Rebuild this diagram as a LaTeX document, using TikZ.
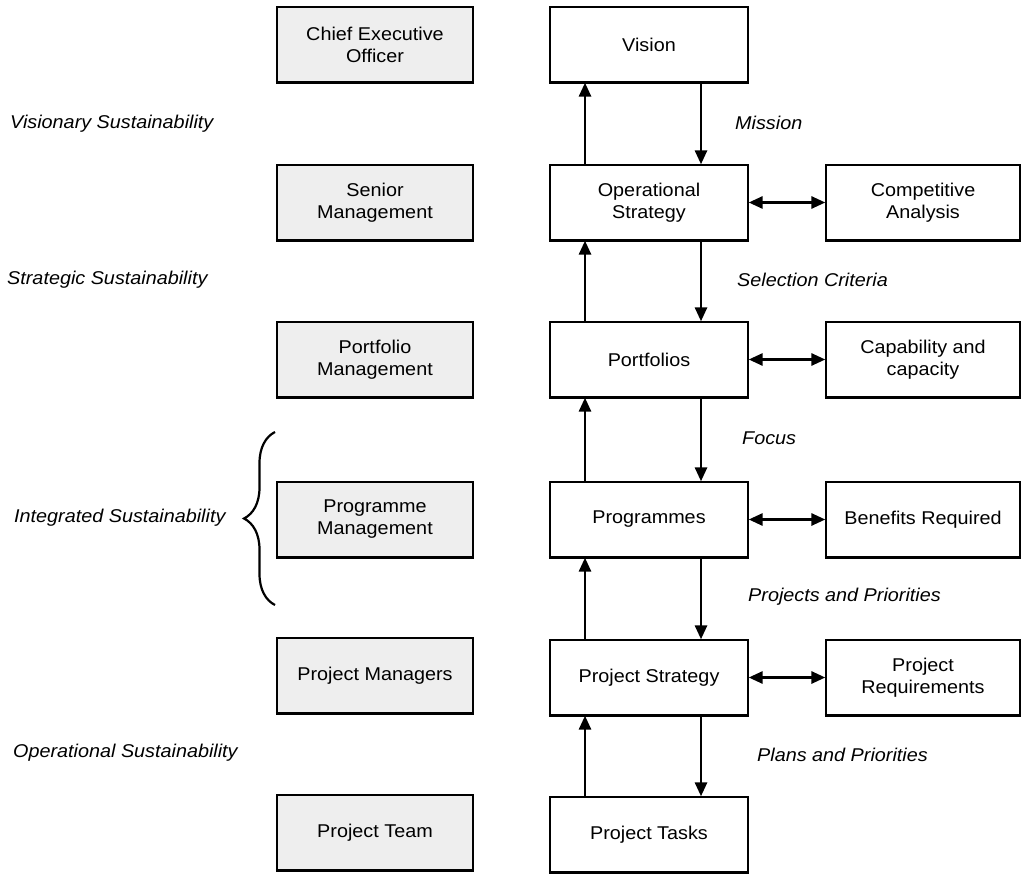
\documentclass[tikz,border=0pt]{standalone}
\usepackage{fontspec}
\setmainfont{Liberation Sans}[FakeStretch=1.07]
\usetikzlibrary{arrows.meta,decorations.pathreplacing}
\definecolor{boxgray}{HTML}{EEEEEE}
\tikzset{
  basebox/.style={draw=black, line width=1.3pt, rectangle, minimum height=75pt, align=center,
    font=\fontsize{18.5pt}{22pt}\selectfont, inner sep=2pt},
  rolebox/.style={basebox, fill=boxgray, minimum width=196pt},
  midbox/.style={basebox, fill=white, minimum width=198pt},
  sidebox/.style={basebox, fill=white, minimum width=194pt},
  flow/.style={line width=2.8pt, -{Triangle[length=14pt,width=12pt]}},
  both/.style={line width=2.8pt, {Triangle[length=14pt,width=12pt]}-{Triangle[length=14pt,width=12pt]}},
  lbl/.style={font=\fontsize{18.5pt}{22pt}\selectfont\itshape, anchor=west, inner sep=0pt},
}
\begin{document}
\begin{tikzpicture}[x=1pt,y=-1pt]
\useasboundingbox (0,0) rectangle (1024,882);
% left role boxes
\node[rolebox] (ceo) at (375,44.5) {Chief Executive\\Officer};
\node[rolebox] (sm) at (375,202.5) {Senior\\Management};
\node[rolebox] (pm) at (375,359.5) {Portfolio\\Management};
\node[rolebox] (prm) at (375,519.5) {Programme\\Management};
\node[rolebox] (pjm) at (375,675.5) {Project Managers};
\node[rolebox] (pt) at (375,832.5) {Project Team};
% middle boxes
\node[midbox] (vis) at (649,44.5) {Vision};
\node[midbox] (ops) at (649,202.5) {Operational\\Strategy};
\node[midbox] (por) at (649,359.5) {Portfolios};
\node[midbox] (prg) at (649,519.5) {Programmes};
\node[midbox] (pst) at (649,677.5) {Project Strategy};
\node[midbox] (ptk) at (649,834.5) {Project Tasks};
% right boxes
\node[sidebox] (ca) at (923,202.5) {Competitive\\Analysis};
\node[sidebox] (cc) at (923,359.5) {Capability and\\capacity};
\node[sidebox] (br) at (923,519.5) {Benefits Required};
\node[sidebox] (pr) at (923,677.5) {Project\\Requirements};
% thick bottom edges
\foreach \n in {ceo,sm,pm,prm,pjm,pt,vis,ops,por,prg,pst,ptk,ca,cc,br,pr}
  \draw[line width=3pt] ([xshift=-0.6pt]\n.south west) -- ([xshift=0.6pt]\n.south east);
% up arrows
\draw[flow] (ops.north -| 585,0) -- (vis.south -| 585,0);
\draw[flow] (por.north -| 585,0) -- (ops.south -| 585,0);
\draw[flow] (prg.north -| 585,0) -- (por.south -| 585,0);
\draw[flow] (pst.north -| 585,0) -- (prg.south -| 585,0);
\draw[flow] (ptk.north -| 585,0) -- (pst.south -| 585,0);
% down arrows
\draw[flow] (vis.south -| 701,0) -- (ops.north -| 701,0);
\draw[flow] (ops.south -| 701,0) -- (por.north -| 701,0);
\draw[flow] (por.south -| 701,0) -- (prg.north -| 701,0);
\draw[flow] (prg.south -| 701,0) -- (pst.north -| 701,0);
\draw[flow] (pst.south -| 701,0) -- (ptk.north -| 701,0);
% horizontal double arrows
\draw[both] (ops.east) -- (ca.west);
\draw[both] (por.east) -- (cc.west);
\draw[both] (prg.east) -- (br.west);
\draw[both] (pst.east) -- (pr.west);
% arrow labels
\node[lbl] (lm) at (735,123) {Mission};
\node[lbl] (ls) at (737,280) {Selection Criteria};
\node[lbl] (lf) at (742,438) {Focus};
\node[lbl] (lp) at (748,597) {Projects and Priorities};
\node[lbl] (lpl) at (757,755) {Plans and Priorities};
% left labels
\node[lbl] (vsus) at (10,124) {Visionary Sustainability};
\node[lbl] (ssus) at (7,280) {Strategic Sustainability};
\node[lbl] (isus) at (14,518) {Integrated Sustainability};
\node[lbl] (osus) at (13,753) {Operational Sustainability};
% brace
\coordinate (bb) at (275,605);
\coordinate (bt) at (275,432);
\draw[line width=2.2pt, decorate, decoration={brace, amplitude=31pt}] (bb) -- (bt);
\end{tikzpicture}
\end{document}
